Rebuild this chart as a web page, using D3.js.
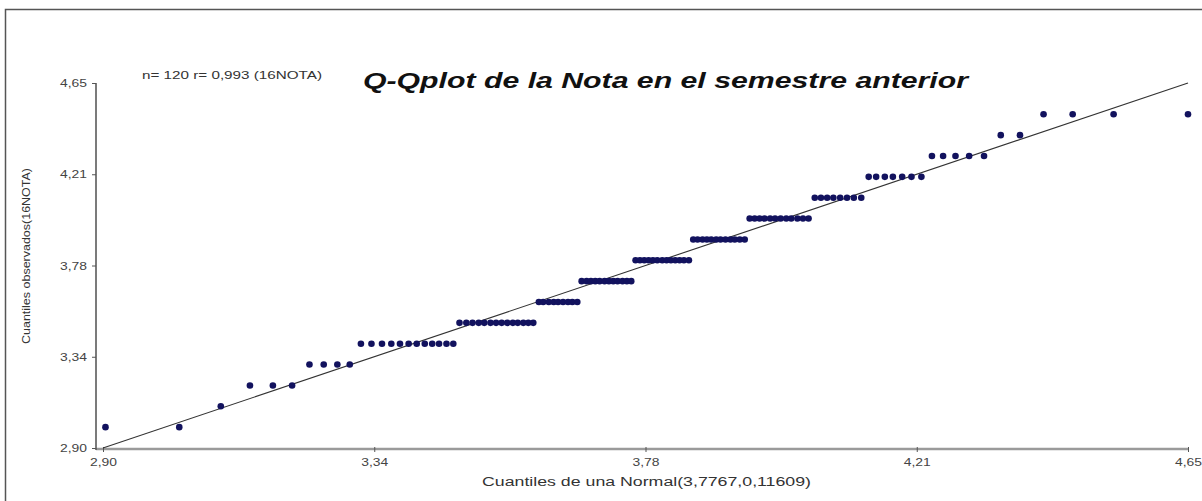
<!DOCTYPE html>
<html>
<head>
<meta charset="utf-8">
<script src="https://cdn.jsdelivr.net/npm/d3@7"></script>
<style>
  html, body { margin: 0; padding: 0; background: #fff; }
  svg { display: block; }
  text { font-family: "Liberation Sans", Arial, sans-serif; }
</style>
</head>
<body>
<svg id="chart" width="1202" height="501"></svg>
<script>
// ---- data ----
const title = "Q-Qplot de la Nota en el semestre anterior";
const subtitle = "n= 120 r= 0,993 (16NOTA)";
const xLabel = "Cuantiles de una Normal(3,7767,0,11609)";
const yLabel = "Cuantiles observados(16NOTA)";

// observed grade levels and how many students sit on each level (sorted)
const levels = [3.0, 3.1, 3.2, 3.3, 3.4, 3.5, 3.6, 3.7, 3.8, 3.9, 4.0, 4.1, 4.2, 4.3, 4.4, 4.5];
const counts = [2, 1, 3, 4, 12, 14, 9, 12, 13, 12, 12, 8, 7, 5, 2, 4];

// theoretical normal quantiles (x positions) of the 120 sorted observations
const normalQuantiles = [
  2.904, 3.023, 3.090, 3.137, 3.174, 3.205, 3.233, 3.256, 3.278, 3.298,
  3.316, 3.333, 3.350, 3.365, 3.379, 3.393, 3.406, 3.419, 3.431, 3.442,
  3.454, 3.465, 3.475, 3.486, 3.496, 3.506, 3.515, 3.525, 3.534, 3.543,
  3.552, 3.561, 3.569, 3.578, 3.586, 3.594, 3.603, 3.610, 3.619, 3.627,
  3.634, 3.642, 3.650, 3.657, 3.665, 3.672, 3.680, 3.687, 3.694, 3.701,
  3.709, 3.716, 3.723, 3.730, 3.738, 3.745, 3.752, 3.759, 3.766, 3.773,
  3.780, 3.787, 3.794, 3.802, 3.809, 3.816, 3.823, 3.830, 3.837, 3.845,
  3.852, 3.859, 3.867, 3.874, 3.881, 3.889, 3.896, 3.904, 3.912, 3.919,
  3.927, 3.935, 3.943, 3.951, 3.959, 3.967, 3.976, 3.984, 3.993, 4.002,
  4.010, 4.020, 4.029, 4.038, 4.048, 4.058, 4.068, 4.078, 4.089, 4.100,
  4.111, 4.123, 4.135, 4.147, 4.161, 4.174, 4.189, 4.204, 4.220, 4.237,
  4.255, 4.275, 4.297, 4.321, 4.348, 4.379, 4.417, 4.464, 4.530, 4.650
];

const tickValues = [2.90, 3.3375, 3.775, 4.2125, 4.65];
const tickLabels = ["2,90", "3,34", "3,78", "4,21", "4,65"];
const refLine = [2.90, 4.65];

// ---- build points ----
const observed = [];
levels.forEach((v, k) => { for (let j = 0; j < counts[k]; j++) observed.push(v); });
const points = observed.map((v, i) => ({ x: normalQuantiles[i], y: v }));

// ---- layout ----
const svg = d3.select("#chart");
const x = d3.scaleLinear().domain([2.90, 4.65]).range([103, 1188]);
const y = d3.scaleLinear().domain([2.90, 4.65]).range([448, 83]);
const axisX = 96, axisY = 449;
const FF = "'Liberation Sans', Arial, sans-serif";

// frame
svg.append("rect")
  .attr("x", 5.5).attr("y", 9.5).attr("width", 1400).attr("height", 700)
  .attr("fill", "none").attr("stroke", "#555").attr("stroke-width", 1.5);

// axis lines
svg.append("line").attr("x1", axisX).attr("x2", x(4.65)).attr("y1", axisY).attr("y2", axisY)
  .style("stroke", "#9a9a9a").style("stroke-width", "2.4px");
svg.append("line").attr("x1", axisX).attr("x2", axisX).attr("y1", y(4.65)).attr("y2", axisY + 1)
  .style("stroke", "#5a5a5a").style("stroke-width", "1.6px");

// x axis ticks + labels
const fmt = d => tickLabels[tickValues.indexOf(d)];
const gx = svg.append("g").attr("transform", `translate(0,${axisY})`)
  .call(d3.axisBottom(x).tickValues(tickValues).tickFormat(fmt).tickSize(3).tickSizeOuter(0));
gx.select(".domain").remove();
gx.selectAll(".tick line").attr("stroke", "#555").attr("y1", -2).attr("y2", 3);
gx.selectAll(".tick text").attr("fill", "#444").attr("font-size", 11)
  .attr("font-family", FF).attr("dy", "0.75em").attr("y", 9)
  .attr("textLength", 27).attr("lengthAdjust", "spacingAndGlyphs");

// y axis ticks + labels
const gy = svg.append("g").attr("transform", `translate(${axisX},0)`)
  .call(d3.axisLeft(y).tickValues(tickValues).tickFormat(fmt).tickSize(4).tickSizeOuter(0));
gy.select(".domain").remove();
gy.selectAll(".tick line").attr("stroke", "#555");
gy.selectAll(".tick text").attr("fill", "#444").attr("font-size", 11)
  .attr("font-family", FF).attr("x", -9)
  .attr("textLength", 27).attr("lengthAdjust", "spacingAndGlyphs");

// reference line
svg.append("line")
  .attr("x1", x(refLine[0])).attr("y1", y(refLine[0]))
  .attr("x2", x(refLine[1])).attr("y2", y(refLine[1]))
  .attr("stroke", "#333").attr("stroke-width", 1.1);

// points
svg.append("g").selectAll("circle").data(points).join("circle")
  .attr("cx", d => x(d.x)).attr("cy", d => y(d.y)).attr("r", 3.3)
  .attr("fill", "#12125e");

// title
const t = svg.append("text").attr("x", 363).attr("y", 88)
  .attr("font-size", 22).attr("font-weight", "bold").attr("font-style", "italic")
  .attr("fill", "#111").attr("textLength", 605).attr("lengthAdjust", "spacingAndGlyphs")
  .text(title);

// subtitle
svg.append("text").attr("x", 142).attr("y", 79)
  .attr("font-size", 10.5).attr("fill", "#333")
  .attr("textLength", 180).attr("lengthAdjust", "spacingAndGlyphs").text(subtitle);

// x label
svg.append("text").attr("x", 482).attr("y", 486)
  .attr("font-size", 12.5).attr("fill", "#333")
  .attr("textLength", 329).attr("lengthAdjust", "spacingAndGlyphs").text(xLabel);

// y label
svg.append("text").attr("transform", "translate(30,256) rotate(-90)")
  .attr("text-anchor", "middle").attr("font-size", 10).attr("fill", "#333")
  .attr("textLength", 176).attr("lengthAdjust", "spacingAndGlyphs").text(yLabel);
</script>
</body>
</html>
